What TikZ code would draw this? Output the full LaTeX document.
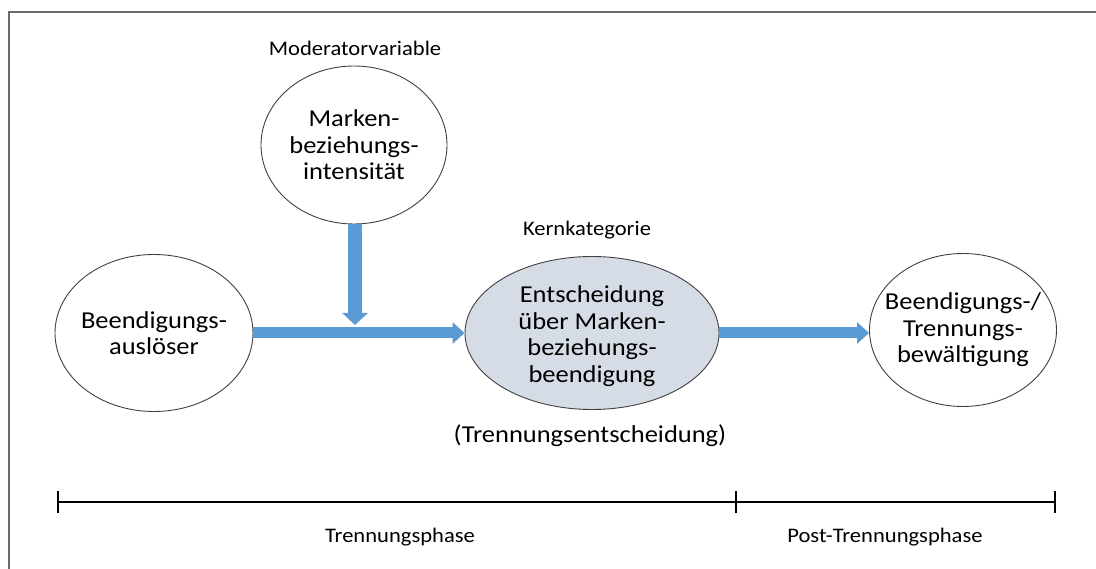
\documentclass[tikz,border=0pt]{standalone}
\usepackage{fontspec}
\setmainfont{Carlito}[FakeStretch=1.09]
\usetikzlibrary{shapes.geometric,arrows.meta}
\definecolor{arrowblue}{HTML}{5B9BD5}
\definecolor{corefill}{HTML}{D6DCE5}
\definecolor{framegray}{HTML}{6B6B6B}
\begin{document}
\begin{tikzpicture}[x=1pt,y=-1pt,
  bubble/.style={ellipse, draw=black!75, line width=0.9pt, inner sep=0pt},
  btext/.style={align=center, inner sep=0pt, font=\fontsize{24.3}{26.6}\selectfont},
  lbl/.style={font=\fontsize{20.7}{24}\selectfont, inner sep=0pt},
  biglbl/.style={font=\fontsize{24.3}{26.6}\selectfont, inner sep=0pt},
  flow/.style={arrowblue, line width=11pt, -{Triangle[length=12pt,width=21pt]}},
  vflow/.style={arrowblue, line width=14pt, -{Triangle[length=12pt,width=25pt]}}]
\useasboundingbox (0,0) rectangle (1096,569);
\draw[framegray, line width=1.8pt] (9,590) -- (9,12) -- (1120,12);
\node[bubble, minimum width=198pt, minimum height=157pt] (l) at (154,333) {};
\node[btext] (lt) at (l.center) {Beendigungs-\\auslöser};
\node[bubble, minimum width=186pt, minimum height=158pt] (t) at (354,145) {};
\node[btext] (tt) at (t.center) {Marken-\\beziehungs-\\intensität};
\node[bubble, fill=corefill, minimum width=254pt, minimum height=153pt] (c) at (592,333) {};
\node[btext] (ct) at ([yshift=-3pt]c.center) {Entscheidung\\über Marken-\\beziehungs-\\beendigung};
\node[bubble, minimum width=187pt, minimum height=153pt] (r) at (963,330) {};
\node[btext] (rt) at (r.center) {Beendigungs-/\\Trennungs-\\bewältigung};
\node[lbl] (mod) at (355,48) {Moderatorvariable};
\node[lbl] (kern) at (587,230) {Kernkategorie};
\node[biglbl] (tren) at (590,436) {(Trennungsentscheidung)};
\coordinate (j) at (355,325);
\draw[flow] (l.east) -- (c.west);
\draw[vflow] (j |- t.south) -- (j);
\draw[flow] (c.east) -- (c.east -| r.west);
\coordinate (p0) at (58,502);
\coordinate (p1) at (736,502);
\coordinate (p2) at (1055,502);
\draw[line width=2.6pt] (p0) -- (p2);
\foreach \p in {p0,p1,p2}{\draw[line width=1.6pt] ([yshift=-11pt]\p) -- ([yshift=11pt]\p);}
\node[lbl] (ph1) at (400,537) {Trennungsphase};
\node[lbl] (ph2) at (885,537) {Post-Trennungsphase};
\end{tikzpicture}
\end{document}
